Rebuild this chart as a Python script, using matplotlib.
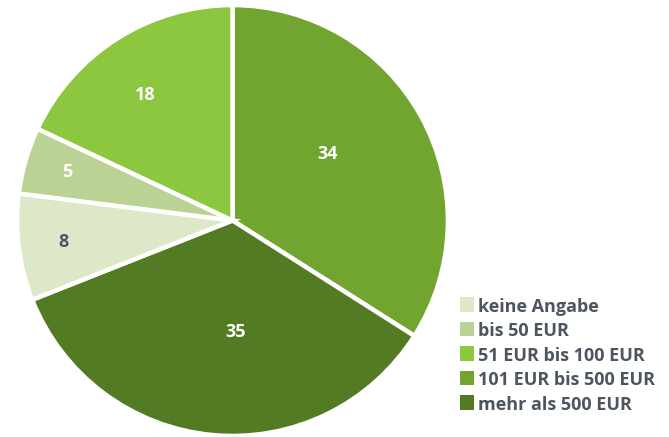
import numpy as np
import matplotlib.pyplot as plt
from matplotlib.patches import Rectangle

# data
labels = ['keine Angabe', 'bis 50 EUR', '51 EUR bis 100 EUR', '101 EUR bis 500 EUR', 'mehr als 500 EUR']
values = [8, 5, 18, 34, 35]
colors = ['#dde8c8', '#bad394', '#8dc63f', '#72a530', '#537b23']

# draw order in the pie (clockwise from top)
order = [3, 4, 0, 1, 2]
label_dist = [0.54, 0.52, 0.79, 0.80, 0.71]
label_shift = [6, 7, 0, 0, 2.5]   # degrees, nudging labels like the original
label_colors = ['white', 'white', '#4d5560', 'white', 'white']

plt.rcParams['font.family'] = ['Open Sans', 'DejaVu Sans']
W, H = 669, 437

fig = plt.figure(figsize=(W / 100, H / 100), dpi=100)
ax = fig.add_axes([16 / W, 0 / H, 433 / W, 433 / H])

vals = [values[i] for i in order]
cols = [colors[i] for i in order]
wedges, _ = ax.pie(vals, colors=cols, startangle=90, counterclock=False,
                   radius=1, wedgeprops=dict(edgecolor='white', linewidth=3.2))

for w, d, s, c, v in zip(wedges, label_dist, label_shift, label_colors, vals):
    mid = np.deg2rad((w.theta1 + w.theta2) / 2 + s)
    ax.text(d * np.cos(mid), d * np.sin(mid), str(v), ha='center', va='center',
            fontsize=13, fontweight='bold', color=c)

ax.set_xlim(-1.005, 1.005)
ax.set_ylim(-1.005, 1.005)
ax.set_aspect('equal')
ax.axis('off')

# legend drawn by hand (squares + bold grey text)
sq = 14.5
for i, (lab, c) in enumerate(zip(labels, colors)):
    top = 297 + i * 24.5
    fig.add_artist(Rectangle((459.5 / W, 1 - (top + sq) / H), sq / W, sq / H,
                             transform=fig.transFigure, facecolor=c, edgecolor='none'))
    fig.text(478.5 / W, 1 - (top + sq / 2 + 0.5) / H, lab, ha='left', va='center_baseline',
             fontsize=13, fontweight='bold', color='#4d5560')

fig.savefig('out.png', dpi=100)
